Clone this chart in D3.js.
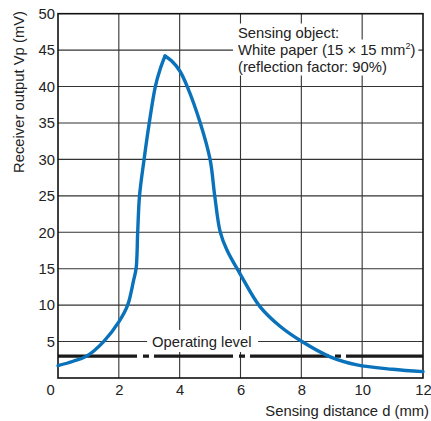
<!DOCTYPE html>
<html>
<head>
<meta charset="utf-8">
<script src="https://cdn.jsdelivr.net/npm/d3@7"></script>
<style>
  body { margin: 0; background: #fff; }
  svg { font-family: "Liberation Sans", Arial, Helvetica, sans-serif; }
</style>
</head>
<body>
<svg id="chart" width="431" height="421"></svg>
<script>
// sensing distance (mm) / receiver output (mV)
var risingDist   = [0, 0.5, 0.94, 1.5, 2, 2.29, 2.48, 2.57, 2.62, 2.68, 2.83, 3.0, 3.2, 3.36, 3.52];
var risingVp     = [1.7, 2.3, 3, 5, 7.7, 10, 13.3, 15.1, 20, 25, 30, 35, 40, 42.4, 44.2];
var fallingDist  = [3.52, 3.74, 4.01, 4.25, 4.67, 5.0, 5.15, 5.33, 5.55, 6.0, 6.64, 7.3, 8.02, 8.95, 9.83, 11, 12];
var fallingVp    = [44.2, 43.5, 42.1, 40, 35.1, 30, 25.1, 20.1, 17.6, 14.2, 9.8, 7.1, 5.0, 2.9, 1.8, 1.2, 0.87];

var operatingLevel = 3;
var xTicks = [0, 2, 4, 6, 8, 10, 12];
var yTicks = [5, 10, 15, 20, 25, 30, 35, 40, 45, 50];
var noteLines = ['Sensing object:', 'White paper (15 \u00d7 15 mm', '(reflection factor: 90%)'];

var svg = d3.select('#chart');
var x = d3.scaleLinear().domain([0, 12]).range([58, 423]);
var y = d3.scaleLinear().domain([0, 50]).range([378, 13.7]);

/** grid **/
svg.selectAll('.vgrid').data(xTicks.slice(1, -1)).enter()
    .append('line')
    .attr('class', 'vgrid')
    .attr('x1', function(d) { return x(d); })
    .attr('x2', function(d) { return x(d); })
    .attr('y1', y(0))
    .attr('y2', y(50))
    .attr('stroke', '#333')
    .attr('stroke-width', 1.1);

svg.selectAll('.hgrid').data(yTicks.slice(0, -1)).enter()
    .append('line')
    .attr('class', 'hgrid')
    .attr('x1', x(0))
    .attr('x2', x(12))
    .attr('y1', function(d) { return y(d); })
    .attr('y2', function(d) { return y(d); })
    .attr('stroke', '#333')
    .attr('stroke-width', 1.1);

/** annotation with white boxes hiding the grid **/
var note = svg.append('g');
note.selectAll('text').data(noteLines).enter()
    .append('text')
    .attr('x', 238)
    .attr('y', function(d, i) { return 37.5 + i * 17; })
    .attr('font-size', '14.8px')
    .attr('fill', '#222')
    .each(function(d, i) {
        var t = d3.select(this);
        t.append('tspan').text(d);
        if (i === 1) {
            t.append('tspan').attr('font-size', '9px').attr('dy', -6).text('2');
            t.append('tspan').attr('dy', 6).text(')');
        }
    });
note.selectAll('text').each(function() {
    var b = this.getBBox();
    note.insert('rect', 'text')
        .attr('x', b.x - 5)
        .attr('y', b.y - 1)
        .attr('width', b.width + 8)
        .attr('height', b.height + 2)
        .attr('fill', '#fff');
});

// operating level label
var opLabel = svg.append('g');
opLabel.append('rect')
    .attr('x', x(2.93))
    .attr('y', 330)
    .attr('width', 111)
    .attr('height', 22)
    .attr('fill', '#fff');
opLabel.append('text')
    .attr('x', 152)
    .attr('y', 346.5)
    .attr('font-size', '14.8px')
    .attr('fill', '#222')
    .text('Operating level');

/** operating level line **/
svg.append('line')
    .attr('x1', x(0))
    .attr('x2', x(12))
    .attr('y1', y(operatingLevel))
    .attr('y2', y(operatingLevel))
    .attr('stroke', '#1a1a1a')
    .attr('stroke-width', 3.2)
    .attr('stroke-dasharray', '79,6,6,5');

/** frame **/
svg.append('rect')
    .attr('x', x(0))
    .attr('y', y(50))
    .attr('width', x(12) - x(0))
    .attr('height', y(0) - y(50))
    .attr('fill', 'none')
    .attr('stroke', '#111')
    .attr('stroke-width', 1.6);

/** curve, drawn as two halves so the peak stays sharp **/
var line = d3.line()
    .x(function(d) { return x(d[0]); })
    .y(function(d) { return y(d[1]); })
    .curve(d3.curveCatmullRom.alpha(0.5));

[d3.zip(risingDist, risingVp), d3.zip(fallingDist, fallingVp)].forEach(function(pts) {
    svg.append('path')
        .attr('d', line(pts))
        .attr('fill', 'none')
        .attr('stroke', '#0a72ba')
        .attr('stroke-width', 3.4)
        .attr('stroke-linecap', 'round');
});

/** axes **/
var xAxis = svg.append('g')
    .attr('transform', 'translate(0,' + y(0) + ')')
    .call(d3.axisBottom(x).tickValues(xTicks).tickSize(0).tickPadding(6).tickFormat(d3.format('d')));
var yAxis = svg.append('g')
    .attr('transform', 'translate(' + x(0) + ',0)')
    .call(d3.axisLeft(y).tickValues(yTicks).tickSize(0).tickPadding(3).tickFormat(d3.format('d')));

[xAxis, yAxis].forEach(function(g) {
    g.select('.domain').remove();
    g.selectAll('text')
        .attr('font-family', null)
        .attr('font-size', '14.8px')
        .attr('fill', '#222');
});
xAxis.selectAll('.tick text').filter(function(d) { return d === 0; }).attr('dx', -8);

svg.append('text')
    .attr('x', 429)
    .attr('y', 416)
    .attr('text-anchor', 'end')
    .attr('font-size', '14.8px')
    .attr('fill', '#222')
    .text('Sensing distance d (mm)');

svg.append('text')
    .attr('transform', 'translate(24,92) rotate(-90)')
    .attr('text-anchor', 'middle')
    .attr('font-size', '14.8px')
    .attr('fill', '#222')
    .text('Receiver output Vp (mV)');
</script>
</body>
</html>
